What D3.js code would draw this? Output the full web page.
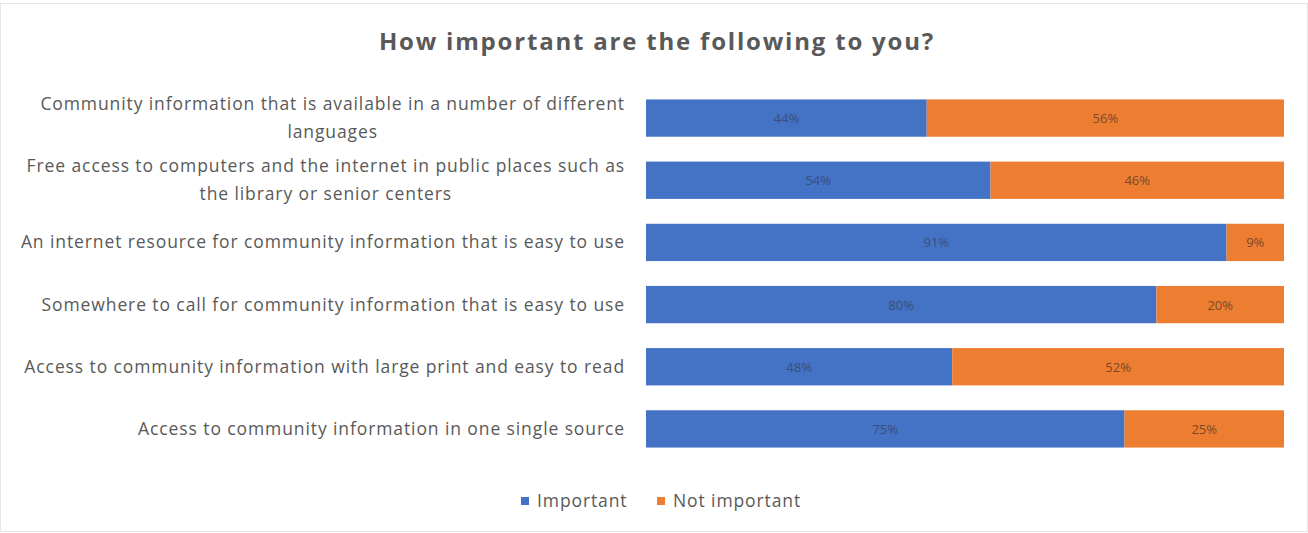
<!DOCTYPE html>
<html>
<head>
<meta charset="utf-8">
<script src="https://cdn.jsdelivr.net/npm/d3@7"></script>
<style>
body { margin: 0; background: #fff; }
svg text { font-family: "Open Sans", "Noto Sans", sans-serif; }
</style>
</head>
<body>
<svg id="chart"></svg>
<script>
// categories, each entry is one row (lines of the label)
var categories = [
  ["Community information that is available in a number of different", "languages"],
  ["Free access to computers and the internet in public places such as", "the library or senior centers"],
  ["An internet resource for community information that is easy to use"],
  ["Somewhere to call for community information that is easy to use"],
  ["Access to community information with large print and easy to read"],
  ["Access to community information in one single source"]
];
var important    = [44, 54, 91, 80, 48, 75];
var notImportant = [56, 46, 9, 20, 52, 25];
var seriesNames  = ["Important", "Not important"];
var colors = ["#4472C4", "#ED7D31"];

var W = 1308, H = 533;
var svg = d3.select("#chart").attr("width", W).attr("height", H);

svg.append("rect")
  .attr("x", 0.5).attr("y", 3.5)
  .attr("width", W - 1).attr("height", H - 5)
  .attr("fill", "#fff")
  .attr("stroke", "#e6e6e6");

svg.append("text")
  .attr("x", 657).attr("y", 50)
  .attr("text-anchor", "middle")
  .attr("font-size", 24)
  .attr("font-weight", "bold")
  .attr("letter-spacing", 1.8)
  .attr("fill", "#595959")
  .text("How important are the following to you?");

var x = d3.scaleLinear().domain([0, 100]).range([646, 1284]);
var y = d3.scaleBand().domain(d3.range(categories.length))
  .range([87, 460]).paddingInner(0.4).paddingOuter(0.2);

var data = categories.map(function(c, i) {
  return {i: i, lines: c, a: important[i], b: notImportant[i]};
});

var rows = svg.selectAll("g.row").data(data).enter()
  .append("g").attr("class", "row");

rows.append("rect")
  .attr("x", x(0))
  .attr("y", function(d) { return y(d.i); })
  .attr("width", function(d) { return x(d.a) - x(0); })
  .attr("height", y.bandwidth())
  .attr("fill", colors[0]);

rows.append("rect")
  .attr("x", function(d) { return x(d.a); })
  .attr("y", function(d) { return y(d.i); })
  .attr("width", function(d) { return x(d.a + d.b) - x(d.a); })
  .attr("height", y.bandwidth())
  .attr("fill", colors[1]);

rows.append("text")
  .attr("x", function(d) { return (x(0) + x(d.a)) / 2; })
  .attr("y", function(d) { return y(d.i) + y.bandwidth() / 2 + 5; })
  .attr("text-anchor", "middle")
  .attr("font-size", 13)
  .attr("fill", "#3a4f7a")
  .text(function(d) { return d.a + "%"; });

rows.append("text")
  .attr("x", function(d) { return (x(d.a) + x(d.a + d.b)) / 2; })
  .attr("y", function(d) { return y(d.i) + y.bandwidth() / 2 + 5; })
  .attr("text-anchor", "middle")
  .attr("font-size", 13)
  .attr("fill", "#7a4a2a")
  .text(function(d) { return d.b + "%"; });

// category labels, right aligned block, lines centered to each other
rows.each(function(d) {
  var g = d3.select(this);
  var t = g.append("text")
    .attr("font-size", 17.5)
    .attr("letter-spacing", 0.9)
    .attr("fill", "#595959")
    .attr("text-anchor", "middle");
  var lh = 28;
  var cy = y(d.i) + y.bandwidth() / 2;
  var y0 = cy - (d.lines.length - 1) * lh / 2 + 6;
  d.lines.forEach(function(l, k) {
    t.append("tspan").attr("x", 0).attr("y", y0 + k * lh).text(l);
  });
  var w = t.node().getBBox().width;
  t.selectAll("tspan").attr("x", 625 - w / 2);
});

var legend = svg.append("g").attr("transform", "translate(521,501)");
var lx = [0, 136];
seriesNames.forEach(function(s, i) {
  legend.append("rect")
    .attr("x", lx[i]).attr("y", -4)
    .attr("width", 8).attr("height", 8)
    .attr("fill", colors[i]);
  legend.append("text")
    .attr("x", lx[i] + 16).attr("y", 6)
    .attr("font-size", 17.5)
    .attr("letter-spacing", 0.9)
    .attr("fill", "#595959")
    .text(s);
});
</script>
</body>
</html>
